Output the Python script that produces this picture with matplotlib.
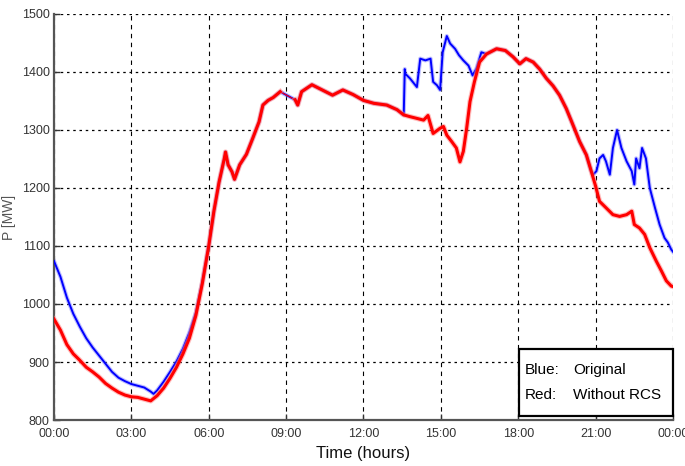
import numpy as np
import matplotlib
matplotlib.use("Agg")
import matplotlib.pyplot as plt
from matplotlib.patches import Rectangle

plt.rcParams['font.family'] = ['Liberation Sans', 'DejaVu Sans']

# time in hours, power in MW
red_t = [0, 0.25, 0.5, 0.75, 1.0, 1.25, 1.5, 1.75, 2.0, 2.25, 2.5, 2.75, 3.0, 3.25, 3.5,
         3.75, 4.0, 4.25, 4.5, 4.75, 5.0, 5.25, 5.5, 5.75, 6.0, 6.1, 6.2, 6.3, 6.4, 6.5,
         6.6, 6.65, 6.75, 6.9, 7.0, 7.2, 7.46, 7.7, 7.95, 8.1, 8.3, 8.5, 8.77,
         9.35, 9.45, 9.6, 10.0, 10.4, 10.8, 11.2, 11.6, 12.0, 12.4, 12.9, 13.3, 13.56,
         13.8, 14.07, 14.33, 14.5, 14.7, 14.97, 15.1, 15.23, 15.42, 15.6, 15.74, 15.87,
         16.0, 16.13, 16.3, 16.5, 16.77, 17.16, 17.5, 17.8, 18.06, 18.3, 18.58, 18.83,
         19.09, 19.35, 19.6, 19.86, 20.1, 20.38, 20.64, 20.83, 21.0, 21.15, 21.4, 21.67,
         21.93, 22.2, 22.4, 22.5, 22.7, 22.9, 23.1, 23.35, 23.55, 23.74, 23.93, 24.0]
red_p = [974, 955, 930, 914, 903, 891, 883, 874, 863, 855, 848, 843, 840, 839, 836,
         833, 842, 855, 872, 891, 914, 941, 980, 1035, 1100, 1130, 1160, 1185, 1210, 1230,
         1250, 1262, 1240, 1228, 1215, 1240, 1258, 1285, 1314, 1343, 1351, 1356, 1366,
         1352, 1343, 1366, 1378, 1369, 1360, 1369, 1361, 1351, 1346, 1343, 1335, 1326,
         1323, 1320, 1317, 1325, 1294, 1303, 1306, 1291, 1280, 1269, 1245, 1263,
         1303, 1349, 1383, 1417, 1431, 1440, 1437, 1426, 1414, 1423, 1417, 1405,
         1389, 1376, 1360, 1337, 1311, 1280, 1257, 1229, 1203, 1177, 1166, 1154,
         1151, 1154, 1160, 1137, 1131, 1120, 1097, 1074, 1057, 1040, 1031, 1030]

# blue lies under the red trace wherever the two agree
blue_t = [0, 0.25, 0.5, 0.75, 1.0, 1.25, 1.5, 1.75, 2.0, 2.25, 2.5, 2.75, 3.0, 3.25, 3.5,
          3.75, 3.86, 4.0, 4.25, 4.5, 4.75, 5.0, 5.25, 5.5, 5.75,
          6.0, 6.1, 6.2, 6.3, 6.4, 6.5, 6.6, 6.65, 6.75, 6.9, 7.0, 7.2, 7.46, 7.7, 7.95,
          8.1, 8.3, 8.5, 8.77, 9.35, 9.45, 9.6, 10.0, 10.4, 10.8, 11.2, 11.6, 12.0,
          12.4, 12.9, 13.3, 13.56,
          13.6, 13.62, 13.8, 14.07, 14.2, 14.4, 14.6, 14.7, 14.85, 14.97, 15.07, 15.23,
          15.36, 15.55, 15.7, 15.87, 16.07, 16.23, 16.38, 16.57,
          16.77, 17.16, 17.5, 17.8, 18.06, 18.3, 18.58, 18.83, 19.09, 19.35, 19.6,
          19.86, 20.1, 20.38, 20.64, 20.83,
          20.9, 21.03, 21.15, 21.29, 21.4, 21.55, 21.67, 21.83, 22.0, 22.2,
          22.4, 22.5, 22.57, 22.7, 22.8, 22.95, 23.1, 23.3, 23.48, 23.67, 23.8, 23.93, 24.0]
blue_p = [1074, 1047, 1011, 983, 961, 941, 925, 911, 897, 883, 873, 867, 862, 859, 856,
          849, 845, 851, 866, 883, 901, 923, 951, 985, 1038,
          1100, 1130, 1160, 1185, 1210, 1230, 1250, 1262, 1240, 1228, 1215, 1240, 1258,
          1285, 1314, 1343, 1351, 1356, 1366, 1352, 1343, 1366, 1378, 1369, 1360, 1369,
          1361, 1351, 1346, 1343, 1335, 1326,
          1405, 1397, 1389, 1374, 1423, 1420, 1423, 1383, 1377, 1369, 1434, 1462,
          1449, 1440, 1429, 1420, 1411, 1394, 1406, 1434,
          1431, 1440, 1437, 1426, 1414, 1423, 1417, 1405, 1389, 1376, 1360,
          1337, 1311, 1280, 1257, 1229,
          1223, 1229, 1251, 1257, 1246, 1223, 1269, 1300, 1269, 1246,
          1229, 1206, 1251, 1234, 1269, 1251, 1200, 1166, 1137, 1114, 1106, 1094, 1090]

# red trace has a data gap between these two times (drawn as thin line)
gap = (8.77, 9.35)

tick_hours = [0, 3, 6, 9, 12, 15, 18, 21, 24]
tick_labels = ['00:00', '03:00', '06:00', '09:00', '12:00', '15:00', '18:00', '21:00', '00:00']
y_ticks = [800, 900, 1000, 1100, 1200, 1300, 1400, 1500]

fig = plt.figure(figsize=(6.85, 4.66), dpi=100)
ax = fig.add_axes([0.0788, 0.0987, 0.9037, 0.8713])

bt = np.array(blue_t)
bp = np.array(blue_p)
rt = np.array(red_t)
rp = np.array(red_p)

ax.plot(bt, bp, color='#7f7fff', lw=3.0, alpha=0.5, zorder=2)
ax.plot(bt, bp, color='#0000ff', lw=1.4, zorder=3)

ax.plot(rt, rp, color='#ff0000', lw=0.8, zorder=4)
before = rt <= gap[0]
after = rt >= gap[1]
for m in (before, after):
    ax.plot(rt[m], rp[m], color='#ff8080', lw=3.8, alpha=0.5, zorder=4)
    ax.plot(rt[m], rp[m], color='#ff0000', lw=2.2, zorder=5)

ax.set_xlim(0, 24)
ax.set_ylim(800, 1500)
ax.set_xticks(tick_hours)
ax.set_xticklabels(tick_labels)
ax.set_yticks(y_ticks)

ax.xaxis.grid(True, linestyle=(0, (4, 4)), color='black', lw=0.8)
ax.yaxis.grid(True, linestyle=(0, (2, 3)), color='black', lw=0.9)
ax.set_axisbelow(True)

for s in ('top', 'right'):
    ax.spines[s].set_visible(False)
for s in ('left', 'bottom'):
    ax.spines[s].set_color('#555555')
    ax.spines[s].set_linewidth(1.6)

ax.tick_params(direction='in', length=4, width=1, colors='#333333', labelsize=9)
ax.tick_params(axis='x', pad=6)
ax.tick_params(axis='y', pad=3)
ax.set_xlabel('Time (hours)', fontsize=12, color='#111111', labelpad=4)
ax.set_ylabel('P [MW]', fontsize=10, color='#555555', labelpad=4)

# text box in the lower right corner
ax.add_patch(Rectangle((0.751, 0.01), 0.249, 0.165, transform=ax.transAxes,
                       facecolor='white', edgecolor='black', lw=1.6, zorder=10,
                       clip_on=False))
ax.text(0.76, 0.123, 'Blue:', transform=ax.transAxes, fontsize=11, va='center', zorder=11)
ax.text(0.839, 0.123, 'Original', transform=ax.transAxes, fontsize=11, va='center', zorder=11)
ax.text(0.76, 0.062, 'Red:', transform=ax.transAxes, fontsize=11, va='center', zorder=11)
ax.text(0.839, 0.062, 'Without RCS', transform=ax.transAxes, fontsize=11, va='center', zorder=11)

fig.savefig('out.png', dpi=100)
